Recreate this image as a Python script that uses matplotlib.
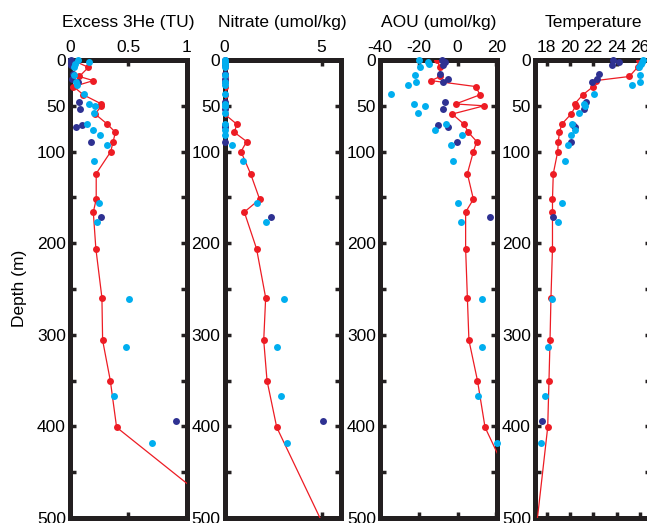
import numpy as np
import matplotlib
matplotlib.use('Agg')
import matplotlib.pyplot as plt

plt.rcParams['font.family'] = ['Liberation Sans', 'DejaVu Sans']
plt.rcParams['font.size'] = 12.5

# sample depths (m) for the three profiles
red_depth = [0, 8, 18, 22.5, 29, 38, 48, 50, 59, 70, 79, 89, 100, 124, 152, 166,
             206, 259.5, 306, 350, 401, 600]
navy_depth = [0, 2.5, 6, 15, 21, 24, 46, 53, 71, 73, 89, 171, 394]
cyan_depth = [0, 2, 4, 8, 16, 24, 27, 37.5, 48, 50, 58, 70, 76, 82, 93, 110,
              156, 177, 261, 313, 366.5, 418.5]

# Excess 3He (TU)
he_red = [0.02, 0.158, 0.08, 0.20, 0.03, 0.115, 0.27, 0.27, 0.216, 0.32, 0.39, 0.37,
          0.35, 0.225, 0.225, 0.20, 0.222, 0.274, 0.28, 0.346, 0.40, 2.36]
he_navy = [0.006, 0.01, 0.006, 0.023, 0.015, 0.072, 0.08, 0.086, 0.10, 0.052,
           0.179, 0.268, 0.913]
he_cyan = [0.066, 0.167, 0.04, 0.035, 0.035, 0.05, 0.063, 0.121, 0.167, 0.216, 0.21,
           0.15, 0.196, 0.26, 0.317, 0.21, 0.25, 0.236, 0.504, 0.484, 0.38, 0.706]

# Nitrate (umol/kg)
no3_red = [0, 0, 0, 0, 0, 0, 0, 0, 0, 0.63, 0.51, 1.14, 0.85, 1.34, 1.81, 1.02,
           1.65, 2.12, 2.02, 2.19, 2.69, 7.17]
no3_navy = [0, 0, 0, 0, 0, 0, 0, 0, 0, 0, 0, 2.37, 5.07]
no3_cyan = [0, 0, 0, 0, 0, 0, 0, 0, 0, 0, 0, 0, 0, 0, 0.37, 0.97, 1.68, 2.12,
            3.08, 2.69, 2.93, 3.22]

# AOU (umol/kg)
aou_red = [-10.6, -9.2, -9.0, -13.7, 9.3, 11.5, -1.1, 13.6, -2.8, 3.2, 5.5, 9.8,
           8.1, 5.0, 8.1, 4.1, 4.1, 5.0, 5.8, 10.2, 14.1, 58.5]
aou_navy = [-8.0, -6.3, -7.5, -8.9, -5.1, -7.5, -6.3, -7.5, -10.3, -5.1, -0.6,
            16.7, np.nan]
aou_cyan = [-20.1, -15.5, -14.6, -19.6, -21.8, -21.3, -25.8, -34.5, -22.4, -16.7,
            -20.6, -5.8, -11.5, 2.0, -3.3, -2.3, 0.1, 1.5, 12.7, 12.7, 10.5, 20.2]

# Temperature
temp_red = [25.9, 25.8, 25.1, 22.2, 22.0, 21.1, 20.4, 20.5, 20.1, 19.3, 19.1, 19.0,
            18.95, 18.57, 18.5, 18.5, 18.5, 18.37, 18.29, 18.2, 18.09, 16.32]
temp_navy = [23.7, 24.2, 23.65, 22.5, 22.3, 21.9, 21.4, 21.2, 20.3, 20.4, 20.1,
             18.57, 17.57]
temp_cyan = [26.3, 26.2, 26.1, 25.9, 26.0, 26.0, 25.3, 22.1, 21.2, 21.3, 20.8,
             20.2, 20.4, 20.1, 19.85, 19.6, 19.3, 19.0, 18.43, 18.14, 17.86, 17.49]

titles = ['Excess 3He (TU)', 'Nitrate (umol/kg)', 'AOU (umol/kg)', 'Temperature']
xlims = [(0, 1), (0, 6), (-40, 20), (17, 27)]
xticks = [[0, 0.5, 1], [0, 5], [-40, -20, 0, 20], [18, 20, 22, 24, 26]]
xticklabels = [['0', '0.5', '1'], ['0', '5'], ['-40', '-20', '0', '20'],
               ['18', '20', '22', '24', '26']]
yticks = np.arange(0, 501, 50)
yticklabels = ['0', '50', '100', '', '200', '', '300', '', '400', '', '500']

reds = [he_red, no3_red, aou_red, temp_red]
navys = [he_navy, no3_navy, aou_navy, temp_navy]
cyans = [he_cyan, no3_cyan, aou_cyan, temp_cyan]

red_c = '#ed1c24'
cyan_c = '#00aeef'
navy_c = '#2e3192'
ink = '#231f20'

W, H = 647, 523
fig = plt.figure(figsize=(W / 100, H / 100), dpi=100)

lefts = [70, 224.5, 380, 535]
top, bottom, width = 60, 518, 116.5

for i in range(4):
    ax = fig.add_axes([lefts[i] / W, 1 - bottom / H, width / W, (bottom - top) / H])
    ax.plot(reds[i], red_depth, '-o', color=red_c, lw=0.9, ms=5, mew=0, zorder=3)
    ax.plot(navys[i], navy_depth, 'o', color=navy_c, ms=5, mew=0, zorder=4,
            clip_on=False)
    ax.plot(cyans[i], cyan_depth, 'o', color=cyan_c, ms=5, mew=0, zorder=5,
            clip_on=False)

    ax.set_xlim(xlims[i])
    ax.set_ylim(500, 0)
    ax.set_xticks(xticks[i])
    ax.set_xticklabels(xticklabels[i])
    ax.set_yticks(yticks)
    ax.set_yticklabels(yticklabels)
    ax.tick_params(direction='in', length=4.5, width=2.5, color=ink,
                   top=True, right=True, bottom=True, left=True,
                   labeltop=True, labelbottom=False)
    ax.tick_params(axis='x', pad=3.5)
    ax.tick_params(axis='y', pad=3)
    for s in ax.spines.values():
        s.set_linewidth(3.6)
        s.set_color(ink)
        s.set_zorder(1)
    ax.set_title(titles[i], fontsize=12.5, y=1.0, pad=24)

fig.text(20 / W, 1 - 288 / H, 'Depth (m)', rotation=90, ha='center', va='center')

fig.savefig('out.png', dpi=100)
